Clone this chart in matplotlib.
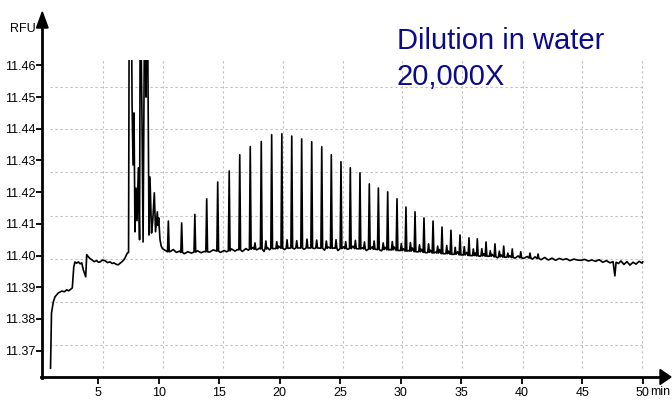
import matplotlib
matplotlib.use("Agg")
import matplotlib.pyplot as plt
import numpy as np
from matplotlib.lines import Line2D
from matplotlib.patches import Polygon

# ---- data (minutes, RFU) ----
# start-up drift before the first big peaks
early_t = [1.05, 1.13, 1.28, 1.42, 1.69, 1.98, 2.2, 2.39, 2.55, 2.66, 2.85, 2.97, 3.07, 3.2,
           3.35, 3.5, 3.63, 3.76, 3.96, 4.04, 4.18, 4.3, 4.46, 4.65, 4.87, 5.0, 5.14, 5.35,
           5.55, 5.75, 5.97, 6.15, 6.3, 6.5, 6.65, 6.8, 6.94, 7.1, 7.21, 7.4]
early_v = [11.3645, 11.3819, 11.3854, 11.3870, 11.3882, 11.3888, 11.3886, 11.3892, 11.3889,
           11.3892, 11.3898, 11.3964, 11.3980, 11.3976, 11.3980, 11.3974, 11.3977, 11.3955,
           11.3933, 11.4003, 11.3996, 11.3991, 11.3987, 11.3981, 11.3984, 11.3979, 11.3980,
           11.3986, 11.3984, 11.3978, 11.3980, 11.3975, 11.3977, 11.3972, 11.3971, 11.3976,
           11.3980, 11.3986, 11.3993, 11.4008]

# cluster of large peaks 7.5 - 10.3 min (tops run off the chart)
cluster_t = [7.50, 7.56, 7.63, 7.72, 7.79, 7.87, 7.95, 8.03, 8.12, 8.20, 8.31, 8.41, 8.47,
             8.61, 8.70, 8.86, 8.95, 9.03, 9.13, 9.19, 9.27, 9.40, 9.50, 9.63, 9.73, 9.88,
             9.94, 9.99, 10.10, 10.20, 10.27]
cluster_v = [11.4010, 11.49, 11.47, 11.49, 11.4482, 11.4286, 11.4450, 11.4075, 11.4213,
             11.4110, 11.4277, 11.4050, 11.49, 11.4434, 11.4043, 11.50, 11.45, 11.50,
             11.4428, 11.4065, 11.4248, 11.4071, 11.4110, 11.4198, 11.4075, 11.4138,
             11.4095, 11.4119, 11.4050, 11.4030, 11.4024]

# ladder of peaks: time, apex, baseline under the peak
peak_t = [10.79, 11.89, 12.98, 13.96, 14.87, 15.82, 16.69, 17.56, 18.47, 19.33, 20.17,
          20.99, 21.81, 22.64, 23.47, 24.26, 25.06, 25.83, 26.63, 27.40, 28.15, 28.92,
          29.69, 30.43, 31.18, 31.92, 32.67, 33.41, 34.15, 34.90, 35.64, 36.33, 37.05,
          37.79, 38.51, 39.22, 39.92, 40.68, 41.35]
peak_v = [11.4109, 11.4103, 11.4130, 11.4179, 11.4232, 11.4267, 11.4318, 11.4344, 11.4360,
          11.4381, 11.4384, 11.4377, 11.4368, 11.4359, 11.4343, 11.4318, 11.4296, 11.4277,
          11.4261, 11.4226, 11.4213, 11.4201, 11.4179, 11.4153, 11.4138, 11.4119, 11.4109,
          11.4090, 11.4080, 11.4065, 11.4056, 11.4053, 11.4043, 11.4037, 11.4030, 11.4021,
          11.4012, 11.4008, 11.4005]
peak_foot = [11.4012, 11.4010, 11.4011, 11.4012, 11.4014, 11.4015, 11.4018, 11.4020,
             11.4021, 11.4022, 11.4023, 11.4024, 11.4024, 11.4024, 11.4023, 11.4023,
             11.4022, 11.4022, 11.4021, 11.4020, 11.4019, 11.4018, 11.4016, 11.4014,
             11.4012, 11.4010, 11.4008, 11.4006, 11.4004, 11.4002, 11.4000, 11.3999,
             11.3998, 11.3996, 11.3995, 11.3994, 11.3993, 11.3992, 11.3991]

# small side peaks between the ladder peaks
minor_t = [17.95, 18.85, 19.75, 20.60, 21.40, 22.25, 23.05, 23.85, 24.65, 25.45, 26.25,
           27.00, 27.80, 28.55, 29.30, 30.05, 30.80, 31.55, 32.30, 33.05, 33.80, 34.50,
           35.25, 36.00, 36.70, 37.40, 38.15, 38.85]
minor_v = [11.4040, 11.4046, 11.4044, 11.4050, 11.4047, 11.4052, 11.4049, 11.4046, 11.4050,
           11.4044, 11.4048, 11.4043, 11.4046, 11.4040, 11.4044, 11.4038, 11.4041, 11.4034,
           11.4037, 11.4030, 11.4032, 11.4026, 11.4028, 11.4021, 11.4022, 11.4015, 11.4014,
           11.4008]
minor_foot = [11.4020, 11.4021, 11.4022, 11.4023, 11.4024, 11.4024, 11.4024, 11.4023,
              11.4023, 11.4022, 11.4022, 11.4021, 11.4020, 11.4019, 11.4018, 11.4016,
              11.4014, 11.4012, 11.4010, 11.4008, 11.4006, 11.4004, 11.4002, 11.4000,
              11.3999, 11.3998, 11.3996, 11.3995]

# noisy baseline after the cluster
base_t = [10.30, 10.55, 10.95, 11.20, 11.45, 11.70, 12.10, 12.40, 12.70, 13.20, 13.50,
          13.75, 14.20, 14.50, 15.10, 15.40, 15.60, 16.00, 16.30, 16.50, 16.90, 17.20,
          17.40, 17.80, 18.10, 18.30, 18.70, 19.00, 19.15, 19.60, 19.90, 20.40, 20.70,
          21.20, 21.50, 22.00, 22.30, 22.85, 23.10, 23.70, 24.00, 24.50, 24.80, 25.30,
          25.60, 26.05, 26.35, 26.85, 27.15, 27.65, 27.90, 28.40, 28.70, 29.15, 29.45,
          29.95, 30.20, 30.65, 30.95, 31.40, 31.70, 32.15, 32.45, 32.90, 33.20, 33.65,
          33.95, 34.40, 34.70, 35.15, 35.45, 35.90, 36.15, 36.55, 36.85, 37.30, 37.55,
          38.00, 38.30, 38.75, 39.00, 39.45, 39.70, 40.15, 40.45, 40.90, 41.10, 41.60,
          41.90, 42.20, 42.50, 42.80, 43.10, 43.40, 43.70, 44.00, 44.30, 44.60, 44.90,
          45.20, 45.50, 45.80, 46.10, 46.40, 46.70, 47.00, 47.30, 47.55, 47.70, 47.80,
          48.00, 48.20, 48.45, 48.70, 48.95, 49.20, 49.45, 49.70, 49.95, 50.00]
base_v = [11.4022, 11.4016, 11.4013, 11.4019, 11.4010, 11.4014, 11.4006, 11.4012, 11.4008,
          11.4015, 11.4009, 11.4013, 11.4011, 11.4018, 11.4010, 11.4016, 11.4012, 11.4021,
          11.4014, 11.4019, 11.4013, 11.4022, 11.4017, 11.4026, 11.4018, 11.4023, 11.4013,
          11.4025, 11.4018, 11.4022, 11.4030, 11.4019, 11.4026, 11.4021, 11.4031, 11.4020,
          11.4027, 11.4022, 11.4030, 11.4017, 11.4027, 11.4024, 11.4016, 11.4028, 11.4020,
          11.4030, 11.4018, 11.4025, 11.4016, 11.4028, 11.4021, 11.4015, 11.4026, 11.4019,
          11.4027, 11.4013, 11.4022, 11.4016, 11.4024, 11.4012, 11.4020, 11.4009, 11.4017,
          11.4011, 11.4019, 11.4006, 11.4014, 11.4004, 11.4012, 11.4002, 11.4010, 11.4000,
          11.4008, 11.3998, 11.4006, 11.3997, 11.4004, 11.3993, 11.4002, 11.3994, 11.4000,
          11.3992, 11.3999, 11.3991, 11.3997, 11.3989, 11.3996, 11.3987, 11.3994, 11.3986,
          11.3992, 11.3985, 11.3991, 11.3987, 11.3990, 11.3984, 11.3989, 11.3986, 11.3985,
          11.3988, 11.3983, 11.3986, 11.3982, 11.3987, 11.3979, 11.3984, 11.3977, 11.3981,
          11.3936, 11.3979, 11.3975, 11.3983, 11.3972, 11.3981, 11.3970, 11.3979, 11.3973,
          11.3982, 11.3976, 11.3980]

yticks = [11.37, 11.38, 11.39, 11.40, 11.41, 11.42, 11.43, 11.44, 11.45, 11.46]
xticks = [5, 10, 15, 20, 25, 30, 35, 40, 45, 50]
# the instrument's grid is not aligned with the ticks
grid_x = [5.38, 10.35, 15.31, 20.27, 25.23, 30.11, 35.07, 40.12, 45.0, 49.97]
grid_y = [11.3718, 11.3853, 11.3989, 11.4125, 11.4264, 11.4400, 11.4532]

# ---- build the trace ----
w = 0.07
pts = list(zip(early_t, early_v)) + list(zip(cluster_t, cluster_v))
spikes = list(zip(peak_t, peak_v, peak_foot)) + list(zip(minor_t, minor_v, minor_foot))
for t, a, f in spikes:
    pts += [(t - w, f), (t, a), (t + w, f)]
for t, v in zip(base_t, base_v):
    if all(abs(t - s[0]) > w * 1.6 for s in spikes):
        pts.append((t, v))
pts.sort()
trace_t = np.array([p[0] for p in pts])
trace_v = np.array([p[1] for p in pts])

# ---- figure ----
W, H = 672, 400
fig = plt.figure(figsize=(W / 100, H / 100), dpi=100)
ax = fig.add_axes([42.3 / W, 23 / H, (645 - 42.3) / W, (377 - 60) / H])
ax.set_xlim(0.37, 50.19)
ax.set_ylim(11.3617, 11.4617)

ax.vlines(grid_x, 11.3645, 11.4617, colors="#bdbdbd", linestyles=(0, (2, 2.5)), lw=0.8)
ax.hlines(grid_y, 1.01, 49.97, colors="#bdbdbd", linestyles=(0, (2, 2.5)), lw=0.8)

ax.plot(trace_t, trace_v, color="black", lw=1.2)

for s in ax.spines.values():
    s.set_visible(False)

tick_font = ["Liberation Sans", "DejaVu Sans"]
ax.set_yticks(yticks)
ax.set_yticklabels(["%.2f" % v for v in yticks], family=tick_font, fontsize=9)
ax.set_xticks(xticks)
ax.set_xticklabels([str(v) for v in xticks], family=tick_font, fontsize=9)
ax.tick_params(axis="y", direction="out", length=4, width=1.3, pad=1)
ax.tick_params(axis="x", direction="out", length=5, width=1.3, pad=2)


def px(x, y):
    return (x / W, 1 - y / H)


# axis lines with arrow heads
fig.add_artist(Line2D(*zip(px(42.3, 378), px(42.3, 24)), color="black", lw=2,
                      transform=fig.transFigure))
fig.add_artist(Line2D(*zip(px(41.3, 377), px(662, 377)), color="black", lw=2,
                      transform=fig.transFigure))
fig.add_artist(Polygon([px(42.3, 12), px(36.5, 28), px(48.1, 28)], closed=True,
                       color="black", transform=fig.transFigure))
fig.add_artist(Polygon([px(671, 377), px(660, 369.5), px(660, 384.5)], closed=True,
                       color="black", transform=fig.transFigure))

fig.text(*px(23, 29), "RFU", family=tick_font, fontsize=9, ha="center", va="center")
fig.text(*px(650, 392), "min", family=tick_font, fontsize=9, ha="left", va="center")

fig.text(*px(397, 49), "Dilution in water", family="Liberation Sans", fontsize=21,
         color="#0a0a8a", ha="left", va="baseline")
fig.text(*px(397, 85), "20,000X", family="Liberation Sans", fontsize=21,
         color="#0a0a8a", ha="left", va="baseline")

fig.savefig("out.png", dpi=100)
